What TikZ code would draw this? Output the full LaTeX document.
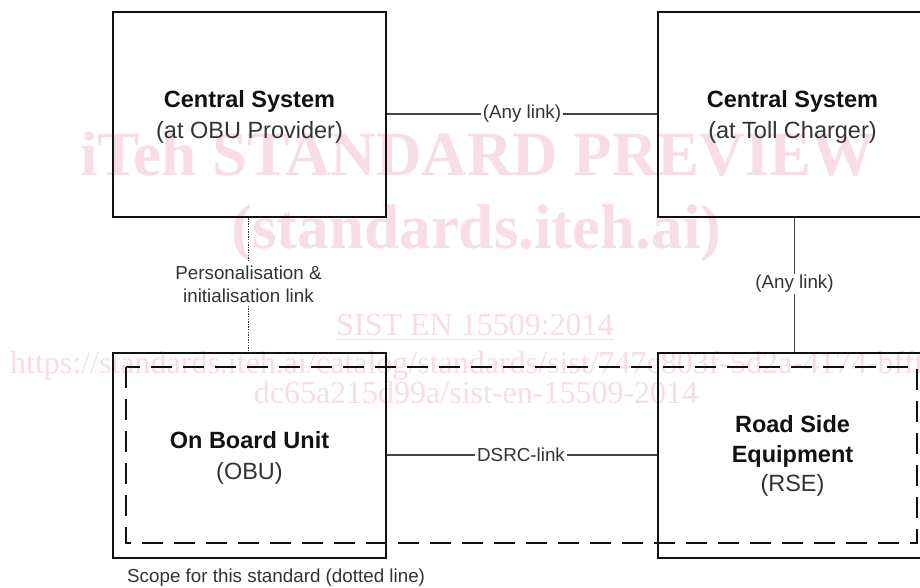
\documentclass[tikz,border=0pt]{standalone}
\usepackage{fontspec}
\setmainfont{Liberation Sans}
\newfontfamily\wmfont{Liberation Serif}
\definecolor{ink}{HTML}{111111}
\definecolor{softink}{HTML}{333333}
\definecolor{linkgray}{HTML}{444444}
\definecolor{wmpink}{RGB}{248,221,230}
\begin{document}
\begin{tikzpicture}[x=1pt,y=-1pt,
  unitbox/.style={draw=ink, line width=2.4pt, minimum width=273pt, minimum height=205pt, inner sep=0pt},
  bigtext/.style={align=center, font=\fontsize{23.5}{31}\selectfont, text=ink},
  linklabel/.style={font=\fontsize{18.8}{23}\selectfont, text=softink, inner sep=1.5pt, align=center},
  linkline/.style={draw=linkgray, line width=1.3pt},
  dotline/.style={draw=softink, line width=1.8pt, dash pattern=on 1.3pt off 1.3pt},
  scopeline/.style={draw=ink, line width=2.8pt, dash pattern=on 21pt off 11pt},
  wmbig/.style={text=wmpink, font=\wmfont\bfseries\fontsize{63}{70}\selectfont, inner sep=0pt},
  wmsmall/.style={text=wmpink, font=\wmfont\fontsize{32}{36}\selectfont, inner sep=0pt}]
\useasboundingbox (0,0) rectangle (920,587);
\clip (0,0) rectangle (920,587);
\fill[white] (0,0) rectangle (920,587);

% watermark lettering
\node[wmbig, anchor=base] (wm1) at (477.5,175) {iTeh STANDARD PREVIEW};
\node[wmbig, anchor=base] (wm2) at (476.5,248) {(standards.iteh.ai)};
\node[wmsmall, anchor=base] (wm3) at (475,335) {SIST EN 15509:2014};
\draw[wmpink, line width=1.6pt] ([yshift=-4.5pt]wm3.base west) -- ([yshift=-4.5pt]wm3.base east);
\node[wmsmall, anchor=base west] (wm4) at (10,373) {https://standards.iteh.ai/catalog/standards/sist/747c803f-5d2a-4174-bfff-};
\node[wmsmall, anchor=base] (wm5) at (476,403) {dc65a215d99a/sist-en-15509-2014};

% units
\node[unitbox] (csobu) at (249.5,114.5) {};
\node[unitbox] (cstoll) at (794.5,114.5) {};
\node[unitbox] (obu) at (249.5,455.5) {};
\node[unitbox] (rse) at (794.5,455.5) {};

\node[bigtext] at (249.5,117) {\textbf{Central System}\\\textcolor{softink}{(at OBU Provider)}};
\node[bigtext] at (792.5,117) {\textbf{Central System}\\\textcolor{softink}{(at Toll Charger)}};
\node[bigtext] at (249.5,458) {\textbf{On Board Unit}\\\textcolor{softink}{(OBU)}};
\node[bigtext, font=\fontsize{23.5}{29.5}\selectfont] at (792.5,456) {\textbf{Road Side}\\\textbf{Equipment}\\\textcolor{softink}{(RSE)}};

% scope of the standard
\draw[scopeline] (126,367) rectangle (917,543);
\node[linklabel, anchor=base west, inner sep=0pt] (scope) at (127,582) {Scope for this standard (dotted line)};

% links
\node[linklabel] (anytop) at (522,114) {(Any link)};
\draw[linkline] (csobu.east |- anytop) -- (anytop.west);
\draw[linkline] (anytop.east) -- (cstoll.west |- anytop);

\node[linklabel] (anyright) at (794.5,284) {(Any link)};
\draw[linkline] (cstoll.south) -- (anyright.north);
\draw[linkline] (anyright.south) -- (rse.north);

\node[linklabel, inner sep=3pt] (pers) at (248.5,284) {Personalisation \&\\initialisation link};
\draw[dotline] (csobu.south -| pers.north) -- (pers.north);
\draw[dotline] (pers.south) -- (obu.north -| pers.south);

\node[linklabel] (dsrc) at (521,455) {DSRC-link};
\draw[linkline] (obu.east |- dsrc) -- (dsrc.west);
\draw[linkline] (dsrc.east) -- (rse.west |- dsrc);
\end{tikzpicture}
\end{document}
